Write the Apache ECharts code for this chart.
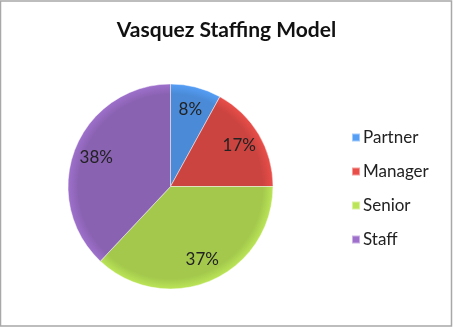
<!DOCTYPE html>
<html>
<head>
<meta charset="utf-8">
<style>
  html, body { margin: 0; padding: 0; background: #fff; }
  #chart { width: 453px; height: 328px; }
</style>
<script src="https://cdn.jsdelivr.net/npm/echarts@6/dist/echarts.min.js"></script>
</head>
<body>
<div id="chart"></div>
<script>
// Staffing mix by level (percent of headcount)
const categories = ['Partner', 'Manager', 'Senior', 'Staff'];
const shares = [8, 17, 37, 38];
const sliceColors = ['#4a8ad6', '#cc4440', '#a3c84c', '#8a62b2'];

const center = [170.5, 186.5];
const radius = 102.5;
const labelRadiusFrac = 0.75;

// Labels sit further out than ECharts' default 'inside' spot (half radius),
// so offset each label along its slice's mid angle.
const total = shares.reduce((a, b) => a + b, 0);
let acc = 0;
const data = categories.map((name, i) => {
  const mid = 90 - (acc + shares[i] / 2) / total * 360;
  acc += shares[i];
  const rad = mid * Math.PI / 180;
  const shift = radius * (labelRadiusFrac - 0.5);
  const base = sliceColors[i];
  return {
    name,
    value: shares[i],
    itemStyle: {
      // slight bevel: lighter rim around the whole pie
      color: {
        type: 'radial', global: true,
        x: center[0], y: center[1], r: radius,
        colorStops: [
          { offset: 0, color: base },
          { offset: 0.9, color: base },
          { offset: 1, color: echarts.color.lift(base, -0.15) }
        ]
      }
    },
    label: { offset: [shift * Math.cos(rad), -shift * Math.sin(rad)] }
  };
});

const chart = echarts.init(document.getElementById('chart'), null, { renderer: 'canvas' });
chart.setOption({
  animation: false,
  color: sliceColors,
  title: {
    text: 'Vasquez Staffing Model',
    left: 'center',
    top: 15,
    textStyle: { fontFamily: 'Lato', fontWeight: 'bold', fontSize: 21, color: '#111' }
  },
  legend: {
    orient: 'vertical',
    left: 346,
    top: 124,
    itemWidth: 8,
    itemHeight: 8,
    itemGap: 17,
    icon: 'rect',
    selectedMode: false,
    textStyle: { fontFamily: 'Lato', fontSize: 17, color: '#222', padding: [0, 0, 0, -2] },
    data: categories
  },
  graphic: [{
    type: 'rect',
    silent: true,
    shape: { x: 0.5, y: 1, width: 451, height: 325 },
    style: { fill: 'none', stroke: '#a8a8a8', lineWidth: 1.5 }
  }],
  series: [{
    type: 'pie',
    center: center,
    radius: [0, radius],
    startAngle: 90,
    clockwise: true,
    silent: true,
    itemStyle: { borderColor: 'rgba(255,255,255,0.45)', borderWidth: 1 },
    label: {
      show: true,
      position: 'inside',
      formatter: '{c}%',
      fontFamily: 'Lato',
      fontSize: 17,
      color: '#222'
    },
    labelLine: { show: false },
    data: data
  }]
});
</script>
</body>
</html>
